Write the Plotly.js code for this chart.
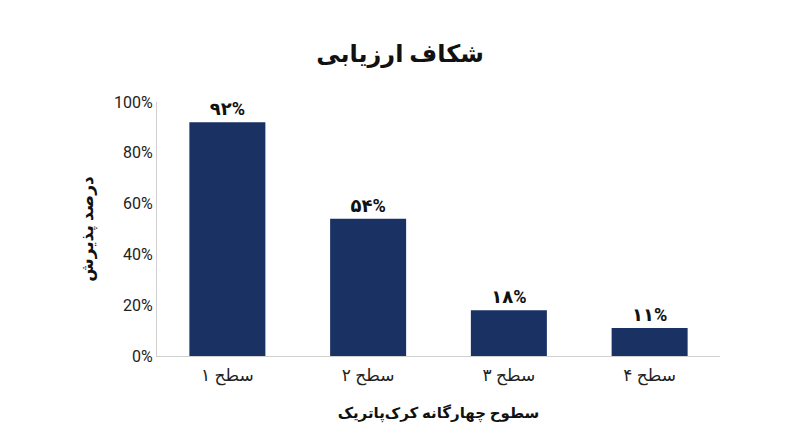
<!DOCTYPE html>
<html>
<head>
<meta charset="utf-8">
<script src="https://cdn.plot.ly/plotly-3.0.1.min.js"></script>
<style>
  html, body { margin: 0; padding: 0; background: #ffffff; }
  #chart { width: 800px; height: 447px; }
</style>
</head>
<body>
<div id="chart"></div>
<script>
// Kirkpatrick levels and adoption rates
const levels = ['سطح ۱', 'سطح ۲', 'سطح ۳', 'سطح ۴'];
const adoption = [0.92, 0.54, 0.18, 0.11];
const adoptionLabels = ['۹۲%', '۵۴%', '۱۸%', '۱۱%'];
const yTicks = [0, 0.2, 0.4, 0.6, 0.8, 1.0];
const yTickText = ['0%', '20%', '40%', '60%', '80%', '100%'];

const fontFamily = 'Roboto, "DejaVu Sans", sans-serif';

const trace = {
    type: 'bar',
    x: levels,
    y: adoption,
    text: adoptionLabels,
    textposition: 'outside',
    cliponaxis: false,
    textfont: { family: fontFamily, size: 18, color: '#111111', weight: 'bold' },
    marker: { color: '#1a3263' },
    hoverinfo: 'x+y'
};

const layout = {
    width: 800,
    height: 447,
    paper_bgcolor: '#ffffff',
    plot_bgcolor: '#ffffff',
    font: { family: fontFamily, color: '#222222', size: 15 },
    margin: { l: 157, r: 80, t: 102, b: 91 },
    bargap: 0.46,
    showlegend: false,
    title: {
        text: '<b>شکاف ارزیابی</b>',
        font: { family: fontFamily, size: 24, color: '#111111' },
        x: 0.5,
        xanchor: 'center',
        y: 0.88,
        yanchor: 'middle'
    },
    xaxis: {
        type: 'category',
        showline: true,
        linecolor: '#d0d0d0',
        linewidth: 1,
        ticks: '',
        ticklabelstandoff: 4,
        tickfont: { family: fontFamily, size: 17, color: '#222222' },
        title: {
            text: '<b>سطوح چهارگانه کرک‌پاتریک</b>',
            font: { family: fontFamily, size: 15, color: '#111111' },
            standoff: 22
        }
    },
    yaxis: {
        range: [0, 1.0],
        tickvals: yTicks,
        ticktext: yTickText,
        showgrid: false,
        zeroline: false,
        showline: true,
        linecolor: '#d0d0d0',
        linewidth: 1,
        ticks: '',
        tickfont: { family: fontFamily, size: 16, color: '#222222' },
        title: {
            text: '<b>درصد پذیرش</b>',
            font: { family: fontFamily, size: 17, color: '#111111' },
            standoff: 16
        }
    }
};

Plotly.newPlot('chart', [trace], layout, { displayModeBar: false, responsive: false });
</script>
</body>
</html>
